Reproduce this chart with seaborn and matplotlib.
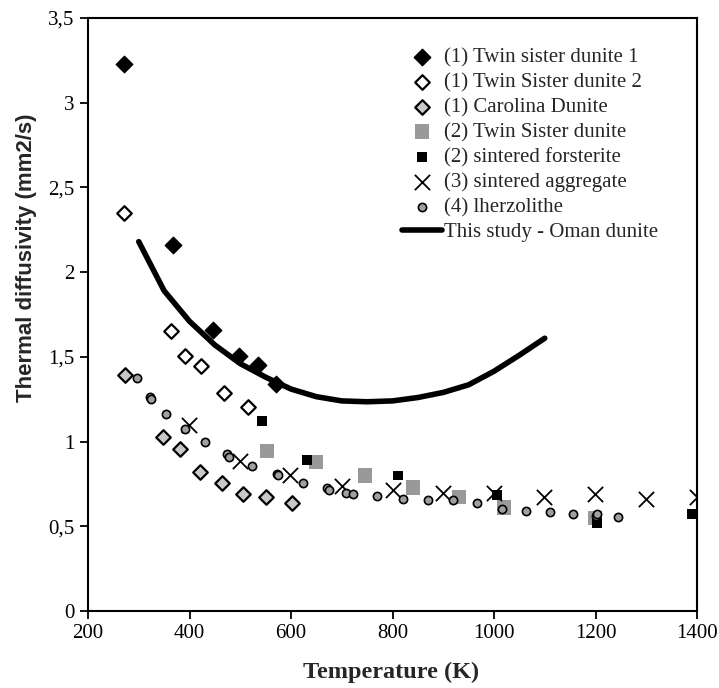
import matplotlib
matplotlib.use("Agg")
import matplotlib.pyplot as plt
import seaborn as sns
import pandas as pd

# --- data ---
ts1_T = [271, 367, 446, 497, 535, 570]
ts1_D = [3.23, 2.16, 1.66, 1.505, 1.45, 1.34]

ts2_T = [271, 363, 391, 423, 468, 515]
ts2_D = [2.35, 1.65, 1.505, 1.446, 1.287, 1.204]

carolina_T = [273, 348, 382, 421, 464, 505, 551, 602]
carolina_D = [1.393, 1.027, 0.956, 0.82, 0.755, 0.69, 0.673, 0.638]

ts_dunite_T = [553, 649, 746, 840, 931, 1020, 1199]
ts_dunite_D = [0.945, 0.88, 0.80, 0.73, 0.673, 0.61, 0.55]

forsterite_T = [543, 631, 811, 1006, 1203, 1390]
forsterite_D = [1.12, 0.89, 0.80, 0.685, 0.52, 0.573]

aggregate_T = [399, 500, 598, 700, 801, 900, 1000, 1098, 1199, 1300, 1400]
aggregate_D = [1.098, 0.885, 0.80, 0.738, 0.714, 0.697, 0.697, 0.673, 0.69, 0.66, 0.673]

lherz_T = [297, 322, 325, 354, 391, 430, 474, 477, 523, 572, 575, 624, 671, 674,
           708, 722, 769, 821, 870, 919, 967, 1016, 1063, 1110, 1156, 1201, 1203, 1244]
lherz_D = [1.375, 1.263, 1.25, 1.163, 1.074, 0.995, 0.925, 0.91, 0.858, 0.81, 0.80,
           0.755, 0.726, 0.715, 0.697, 0.69, 0.68, 0.66, 0.655, 0.655, 0.637, 0.60,
           0.59, 0.584, 0.573, 0.56, 0.57, 0.555]

oman_T = [300, 350, 400, 450, 500, 550, 600, 650, 700, 750, 800, 850, 900, 950, 1000, 1050, 1100]
oman_D = [2.18, 1.89, 1.71, 1.57, 1.46, 1.38, 1.31, 1.265, 1.24, 1.235, 1.24, 1.26,
          1.29, 1.335, 1.415, 1.51, 1.61]

x_ticks = [200, 400, 600, 800, 1000, 1200, 1400]
y_ticks = [0, 0.5, 1, 1.5, 2, 2.5, 3, 3.5]
y_labels = ["0", "0,5", "1", "1,5", "2", "2,5", "3", "3,5"]

sns.set_style("ticks")
plt.rcParams["font.family"] = ["Liberation Serif", "DejaVu Serif"]

fig = plt.figure(figsize=(7.19, 6.88), dpi=100)
ax = fig.add_axes([88 / 719, 77 / 688, 609 / 719, 593 / 688])

sns.scatterplot(x=ts1_T, y=ts1_D, marker="D", s=70, color="black", edgecolor="black",
                linewidth=1, label="(1) Twin sister dunite 1", ax=ax, zorder=4)
sns.scatterplot(x=ts2_T, y=ts2_D, marker="D", s=55, color="white", edgecolor="black",
                linewidth=1.6, label="(1) Twin Sister dunite 2", ax=ax, zorder=4)
sns.scatterplot(x=carolina_T, y=carolina_D, marker="D", s=55, color="#c8c8c8", edgecolor="black",
                linewidth=1.6, label="(1) Carolina Dunite", ax=ax, zorder=4)
sns.scatterplot(x=ts_dunite_T, y=ts_dunite_D, marker="s", s=110, color="#999999", edgecolor="none",
                label="(2) Twin Sister dunite", ax=ax, zorder=3)
sns.scatterplot(x=forsterite_T, y=forsterite_D, marker="s", s=50, color="black", edgecolor="none",
                label="(2) sintered forsterite", ax=ax, zorder=4)
sns.scatterplot(x=aggregate_T, y=aggregate_D, marker="x", s=120, color="black",
                linewidth=1.3, label="(3) sintered aggregate", ax=ax, zorder=4)
sns.scatterplot(x=lherz_T, y=lherz_D, marker="o", s=35, color="#a0a0a0", edgecolor="black",
                linewidth=1.2, label="(4) lherzolithe", ax=ax, zorder=4)

oman = pd.DataFrame({"T": oman_T, "D": oman_D})
sns.lineplot(data=oman, x="T", y="D", color="black", linewidth=4,
             label="This study - Oman dunite", ax=ax, zorder=5)

ax.set_xlim(200, 1400)
ax.set_ylim(0, 3.5)
ax.set_xticks(x_ticks)
ax.set_yticks(y_ticks)
ax.set_yticklabels(y_labels)
ax.tick_params(axis="both", labelsize=15, length=6, width=1.3, direction="out", colors="black")
for sp in ax.spines.values():
    sp.set_visible(True)
    sp.set_linewidth(1.5)
    sp.set_color("black")

ax.set_xlabel("Temperature (K)", fontsize=17.5, fontweight="bold")
ax.set_ylabel("Thermal diffusivity (mm2/s)", fontsize=16, fontweight="bold",
              family=["Liberation Sans", "DejaVu Sans"])
ax.xaxis.set_label_coords(0.497, -0.086)
ax.yaxis.set_label_coords(-0.084, 0.595)

leg = ax.legend(loc="upper left", bbox_to_anchor=(0.5156, 0.95), frameon=False,
                fontsize=15, handlelength=1.9, handletextpad=0.1, labelspacing=0.26,
                borderaxespad=0, borderpad=0)

fig.savefig("out.png", dpi=100)
